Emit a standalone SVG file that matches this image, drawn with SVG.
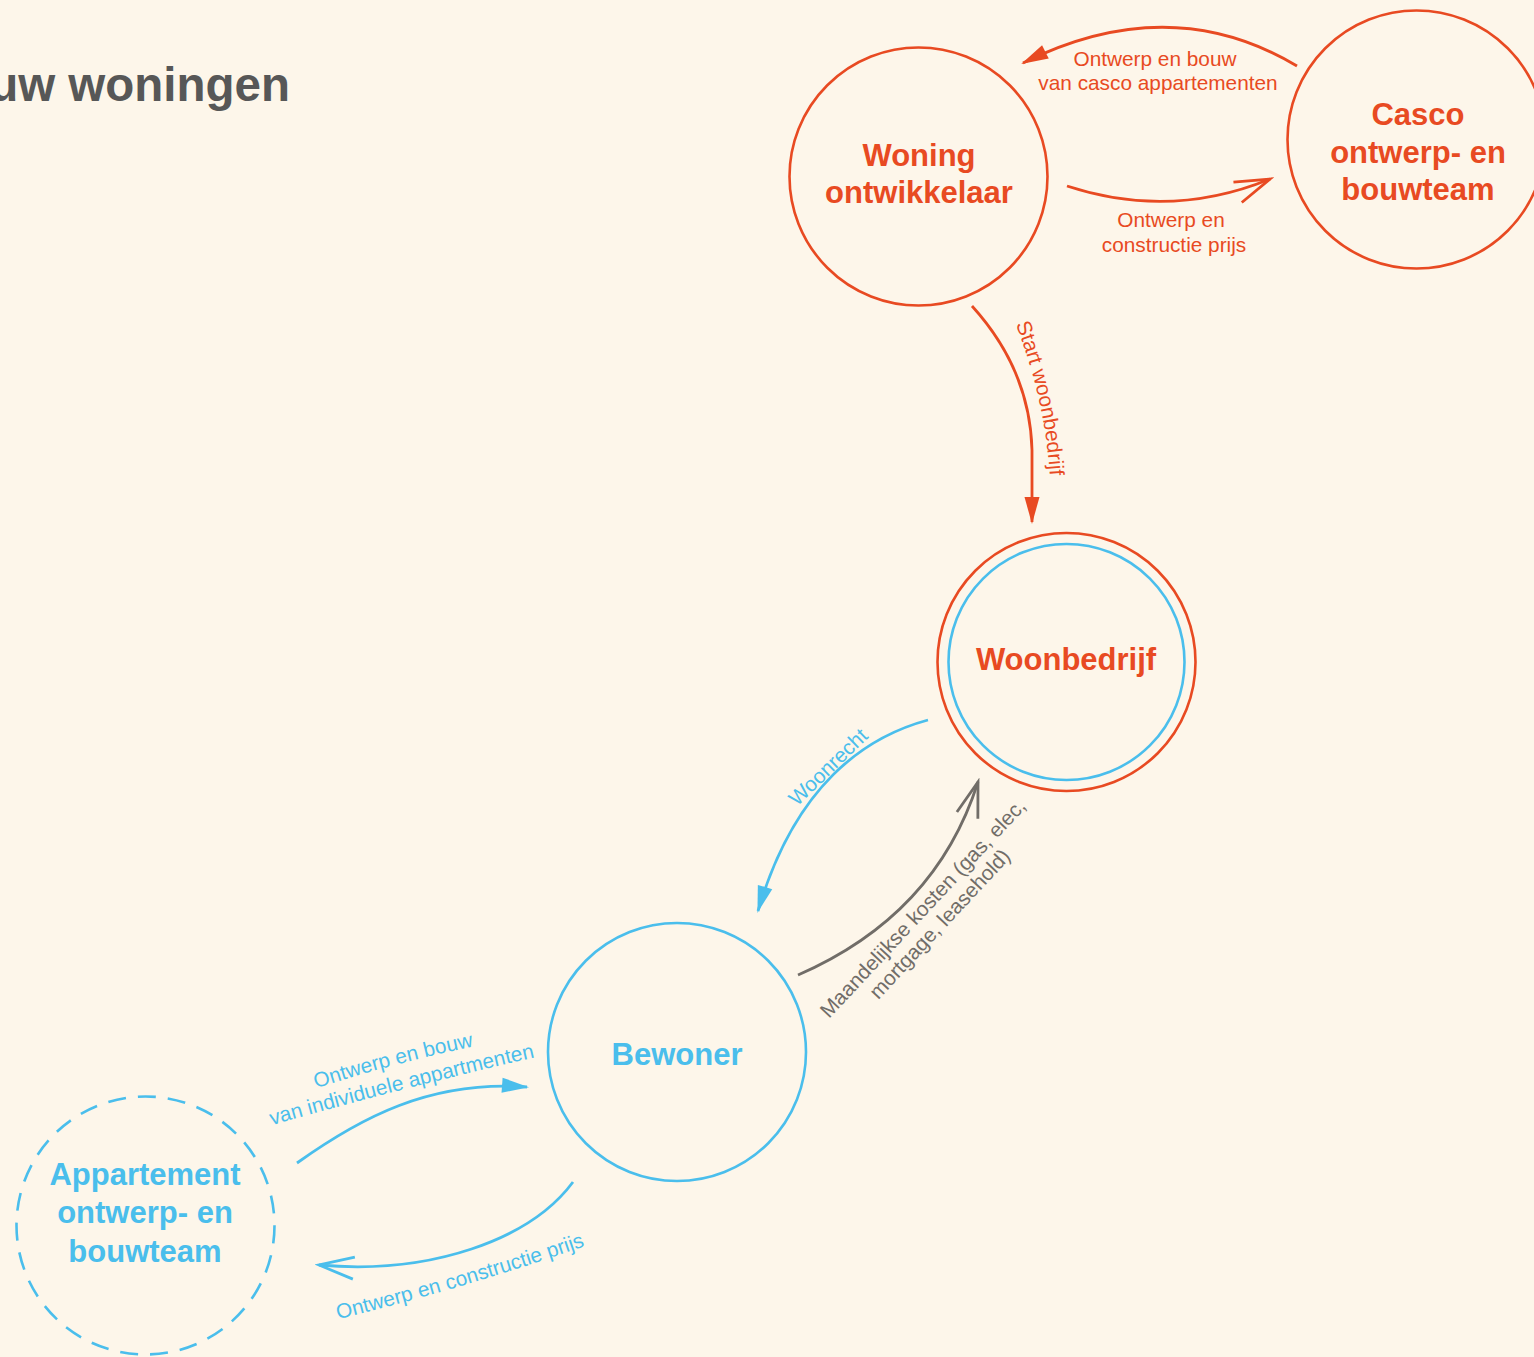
<svg xmlns="http://www.w3.org/2000/svg" width="1534" height="1357" viewBox="0 0 1534 1357">
  <style>
    .ring { fill: none; stroke-width: 2.6; }
    .orange { stroke: #E84A22; }
    .blue { stroke: #4ABEEC; }
    .name { font-family: "Liberation Sans", Arial, Helvetica, sans-serif; font-weight: bold; font-size: 31px; text-anchor: middle; }
    .name.o { fill: #E84A22; }
    .name.b { fill: #4ABEEC; }
    .edge { fill: none; stroke-width: 2.8; }
    .edge.o { stroke: #E84A22; }
    .edge.b { stroke: #4ABEEC; }
    .edge.g { stroke: #716D68; }
    .lbl { font-family: "Liberation Sans", Arial, Helvetica, sans-serif; font-size: 20.8px; text-anchor: middle; }
    .lbl.o { fill: #E84A22; }
    .lbl.b { fill: #4ABEEC; }
    .lbl.g { fill: #716D68; }
  </style>
  <defs>
    <!-- filled triangle heads -->
    <marker id="tri-o" markerUnits="userSpaceOnUse" markerWidth="40" markerHeight="20" viewBox="-30 -10 34 20" refX="-2" refY="0" orient="auto">
      <path d="M-27,-7.5 L0,0 L-27,7.5 Z" fill="#E84A22"/>
    </marker>
    <marker id="tri-b" markerUnits="userSpaceOnUse" markerWidth="40" markerHeight="20" viewBox="-30 -10 34 20" refX="-2" refY="0" orient="auto">
      <path d="M-27,-7.5 L0,0 L-27,7.5 Z" fill="#4ABEEC"/>
    </marker>
    <!-- open V heads -->
    <marker id="vee-o" markerUnits="userSpaceOnUse" markerWidth="44" markerHeight="30" viewBox="-40 -15 44 30" refX="0" refY="0" orient="auto">
      <path d="M-35,-11 L0,0 L-35,11" fill="none" stroke="#E84A22" stroke-width="2.8"/>
    </marker>
    <marker id="vee-b" markerUnits="userSpaceOnUse" markerWidth="44" markerHeight="30" viewBox="-40 -15 44 30" refX="0" refY="0" orient="auto">
      <path d="M-35,-11 L0,0 L-35,11" fill="none" stroke="#4ABEEC" stroke-width="2.8"/>
    </marker>
    <marker id="vee-g" markerUnits="userSpaceOnUse" markerWidth="44" markerHeight="30" viewBox="-40 -15 44 30" refX="0" refY="0" orient="auto">
      <path d="M-35,-11 L0,0 L-35,11" fill="none" stroke="#716D68" stroke-width="2.8"/>
    </marker>
    <!-- baselines for curved labels -->
    <path id="tp-start" d="M1014,320 Q1046,400 1050,480"/>
    <path id="tp-ind1" d="M305,1092 Q395,1062 485,1044"/>
    <path id="tp-ind2" d="M262,1128 Q400,1088 545,1055"/>
    <path id="tp-prijs" d="M335,1320 Q465,1288 588,1245"/>
  </defs>

  <rect width="1534" height="1357" fill="#FDF6EA"/>

  <text x="290" y="101" font-family="'Liberation Sans', Arial, Helvetica, sans-serif" font-weight="bold" font-size="47.5" fill="#575757" text-anchor="end">uw woningen</text>

  <g id="connectors">
    <g id="e-casco-woning">
      <path class="edge o" d="M1297,66 Q1170,-10 1023,63" marker-end="url(#tri-o)"/>
      <text class="lbl o"><tspan x="1155" y="66">Ontwerp en bouw</tspan><tspan x="1158" y="90">van casco appartementen</tspan></text>
    </g>
    <g id="e-woning-casco">
      <path class="edge o" d="M1067,186 Q1170,220 1270,179" marker-end="url(#vee-o)"/>
      <text class="lbl o"><tspan x="1171" y="227">Ontwerp en</tspan><tspan x="1174" y="252">constructie prijs</tspan></text>
    </g>
    <g id="e-woning-woonbedrijf">
      <path class="edge o" d="M972,306 Q1030,370 1032,450 L1032,522" marker-end="url(#tri-o)"/>
      <text class="lbl o"><textPath href="#tp-start" startOffset="50%">Start woonbedrijf</textPath></text>
    </g>
    <g id="e-woonbedrijf-bewoner">
      <path class="edge b" d="M928,720 C865,737 795,785 758,911" marker-end="url(#tri-b)"/>
      <text class="lbl b" transform="translate(833,772) rotate(-44)">Woonrecht</text>
    </g>
    <g id="e-bewoner-woonbedrijf">
      <path class="edge g" d="M798,975 C890,935 950,870 978,782" marker-end="url(#vee-g)"/>
      <text class="lbl g" transform="translate(928,913) rotate(-47)"><tspan x="0" y="0">Maandelijkse kosten (gas, elec,</tspan><tspan x="0" y="23">mortgage, leasehold)</tspan></text>
    </g>
    <g id="e-appartement-bewoner">
      <path class="edge b" d="M297,1163 C360,1118 430,1080 527,1087" marker-end="url(#tri-b)"/>
      <text class="lbl b"><textPath href="#tp-ind1" startOffset="50%">Ontwerp en bouw</textPath></text>
      <text class="lbl b"><textPath href="#tp-ind2" startOffset="50%">van individuele appartmenten</textPath></text>
    </g>
    <g id="e-bewoner-appartement">
      <path class="edge b" d="M573,1182 C530,1240 430,1275 319,1265" marker-end="url(#vee-b)"/>
      <text class="lbl b"><textPath href="#tp-prijs" startOffset="50%">Ontwerp en constructie prijs</textPath></text>
    </g>
  </g>

  <g id="node-woning">
    <circle class="ring orange" cx="918.5" cy="176.5" r="129"/>
    <text class="name o"><tspan x="919" y="166">Woning</tspan><tspan x="919" y="203">ontwikkelaar</tspan></text>
  </g>
  <g id="node-casco">
    <circle class="ring orange" cx="1416.5" cy="139.5" r="129"/>
    <text class="name o"><tspan x="1418" y="125">Casco</tspan><tspan x="1418" y="163">ontwerp- en</tspan><tspan x="1418" y="200">bouwteam</tspan></text>
  </g>
  <g id="node-woonbedrijf">
    <circle class="ring orange" cx="1066.5" cy="662" r="129"/>
    <circle class="ring blue" cx="1066.5" cy="662" r="118"/>
    <text class="name o" x="1066" y="670">Woonbedrijf</text>
  </g>
  <g id="node-bewoner">
    <circle class="ring blue" cx="677" cy="1052" r="129"/>
    <text class="name b" x="677" y="1065">Bewoner</text>
  </g>
  <g id="node-appartement">
    <circle class="ring blue" cx="145.5" cy="1225.5" r="129" stroke-dasharray="18 12"/>
    <text class="name b"><tspan x="145" y="1185">Appartement</tspan><tspan x="145" y="1223">ontwerp- en</tspan><tspan x="145" y="1262">bouwteam</tspan></text>
  </g>
</svg>
